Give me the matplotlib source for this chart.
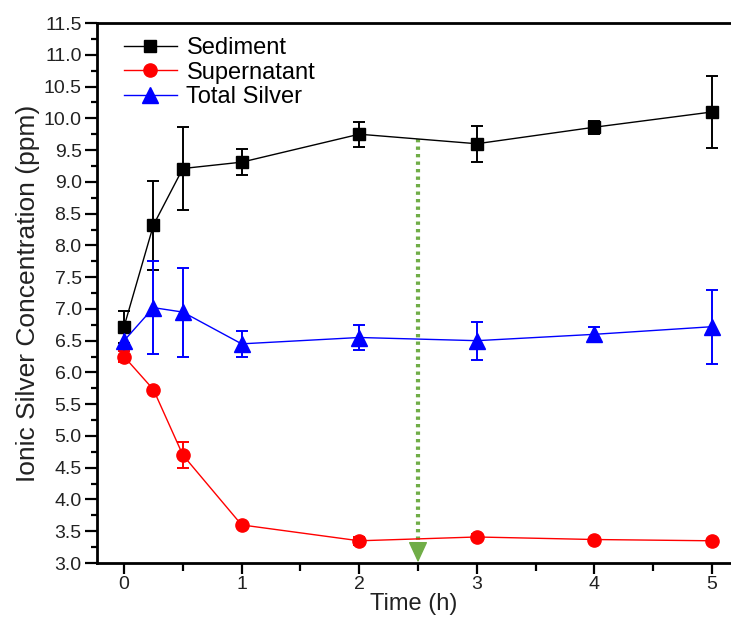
import numpy as np
import matplotlib.pyplot as plt
import matplotlib as mpl
from matplotlib.ticker import MultipleLocator
from matplotlib.lines import Line2D
from matplotlib.patches import FancyArrowPatch

mpl.rcParams["font.family"] = ["Liberation Sans", "DejaVu Sans"]

time_h = [0, 0.25, 0.5, 1, 2, 3, 4, 5]

sediment = [6.72, 8.32, 9.21, 9.31, 9.75, 9.60, 9.86, 10.10]
sediment_err = [0.25, 0.70, 0.65, 0.20, 0.20, 0.28, 0.10, 0.57]

supernatant = [6.25, 5.73, 4.70, 3.60, 3.35, 3.41, 3.37, 3.35]
supernatant_err = [0.08, 0.03, 0.20, 0.03, 0.06, 0.05, 0.03, 0.03]

total_silver = [6.50, 7.02, 6.95, 6.45, 6.55, 6.50, 6.60, 6.72]
total_err = [0.22, 0.73, 0.70, 0.20, 0.20, 0.30, 0.12, 0.58]

marker_time = 2.5
marker_top = 9.68
y_floor = 3.0

fig = plt.figure(figsize=(7.31, 6.26), dpi=100)
ax = fig.add_axes([0.1327, 0.1006, 0.867, 0.8626])

series = [
    (sediment, sediment_err, "black", "s", 9, "Sediment"),
    (supernatant, supernatant_err, "#ff0000", "o", 9.5, "Supernatant"),
    (total_silver, total_err, "#0000ff", "^", 11, "Total Silver"),
]
handles = []
for vals, err, col, mk, ms, name in series:
    ax.errorbar(time_h, vals, yerr=err, color=col, marker=mk, markersize=ms,
                linewidth=1.0, elinewidth=1.4, capsize=4, capthick=1.4)
    handles.append(Line2D([], [], color=col, marker=mk, markersize=ms,
                          linewidth=1.0, label=name))

# dotted guide from the sediment curve down to the time axis
head_len = 0.27
ax.plot([marker_time, marker_time], [marker_top, y_floor + head_len],
        color="#70ad47", linewidth=3, linestyle=(0, (0.8, 1.0)))
ax.add_patch(FancyArrowPatch((marker_time, y_floor + head_len + 0.02),
                             (marker_time, y_floor + 0.01),
                             arrowstyle="-|>,head_length=1.3,head_width=0.6",
                             mutation_scale=10, color="#70ad47",
                             linewidth=1, shrinkA=0, shrinkB=0))

ax.set_xlim(-0.23, 5.16)
ax.set_ylim(3.0, 11.5)
ax.xaxis.set_major_locator(MultipleLocator(1))
ax.xaxis.set_minor_locator(MultipleLocator(0.5))
ax.yaxis.set_major_locator(MultipleLocator(0.5))
ax.yaxis.set_minor_locator(MultipleLocator(0.25))
ax.yaxis.set_major_formatter(mpl.ticker.FormatStrFormatter("%.1f"))
ax.tick_params(which="major", direction="out", length=9, width=1.6,
               labelsize=14, labelcolor="#222222", pad=2)
ax.tick_params(which="minor", direction="out", length=4.5, width=1.6)
ax.tick_params(axis="x", which="major", length=8, pad=1)
ax.tick_params(axis="x", which="minor", length=5.5)
ax.spines["right"].set_visible(False)
for side in ["left", "bottom", "top"]:
    ax.spines[side].set_linewidth(2)

ax.set_xlabel("Time (h)", fontsize=17, labelpad=0, color="#222222")
ax.set_ylabel("Ionic Silver Concentration (ppm)", fontsize=19, labelpad=3,
              color="#222222")

ax.legend(handles=handles, loc="upper left", frameon=False, fontsize=17,
          handlelength=2.25, handletextpad=0.4, borderaxespad=0.2,
          labelspacing=0.1, bbox_to_anchor=(0.02, 1.0))

fig.savefig("out.png", dpi=100)
